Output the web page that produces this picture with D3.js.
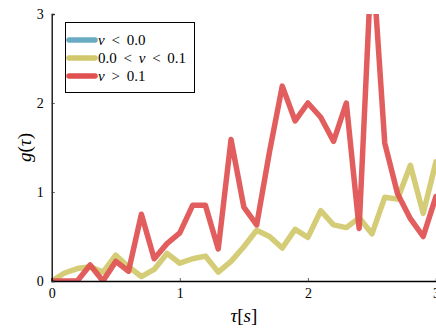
<!DOCTYPE html>
<html><head><meta charset="utf-8">
<script src="https://cdn.jsdelivr.net/npm/d3@7"></script>
<style>body{margin:0;background:#fff}svg{display:block}</style>
</head><body>
<svg id="c" width="436" height="331"></svg>
<script>
const tau = [0,0.1,0.2,0.3,0.4,0.5,0.6,0.7,0.8,0.9,1.0,1.1,1.2,1.3,1.4,1.5,1.6,1.7,1.8,1.9,2.0,2.1,2.2,2.3,2.4,2.5,2.6,2.7,2.8,2.9,3.0];
const gNeg = [];
const gMid = [0,0.09,0.14,0.16,0.10,0.29,0.16,0.05,0.13,0.31,0.20,0.25,0.28,0.10,0.22,0.385,0.57,0.50,0.37,0.58,0.49,0.79,0.63,0.60,0.71,0.53,0.94,0.92,1.30,0.76,1.34];
const gHigh = [0,0,0,0.18,0.0,0.22,0.11,0.75,0.25,0.42,0.54,0.85,0.85,0.36,1.59,0.83,0.63,1.45,2.19,1.80,2.0,1.84,1.57,2.0,0.59,3.7,1.55,0.98,0.70,0.50,0.95];
const seriesNames = ["v<0.0","0.0<v<0.1","v>0.1"];
const xTicks = [0,1,2,3];
const yTicks = [0,1,2,3];

const colors = ["#6aabc4","#d0c86a","#e05050"];
const svg = d3.select("#c");
const L=51.7, R=436, T=14, B=281;
const x = d3.scaleLinear().domain([0,3]).range([L,R]);
const y = d3.scaleLinear().domain([0,3]).range([B,T]);

svg.append("defs").append("clipPath").attr("id","clip")
  .append("rect").attr("x",L).attr("y",T).attr("width",R-L).attr("height",B-T);

const serif = "'Liberation Serif','DejaVu Serif',serif";
const line = d3.line().x(d=>x(d[0])).y(d=>y(d[1]));
const data = [gNeg,gMid,gHigh];
const pg = svg.append("g").attr("clip-path","url(#clip)");
data.forEach((vals,i)=>{
  if(!vals.length) return;
  pg.append("path").datum(vals.map((v,j)=>[tau[j],v]))
    .attr("d",line).attr("fill","none").attr("stroke",colors[i])
    .attr("stroke-width",5.5).attr("stroke-linejoin","round").attr("stroke-linecap","round")
    .attr("stroke-opacity",0.92);
});

// axes
const xa = d3.axisBottom(x).tickValues(xTicks).tickSize(-3).tickPadding(7).tickFormat(d3.format("d"));
const ya = d3.axisLeft(y).tickValues(yTicks).tickSize(-3).tickPadding(7).tickFormat(d3.format("d"));
const gx = svg.append("g").attr("transform",`translate(0,${B})`).call(xa);
const gy = svg.append("g").attr("transform",`translate(${L},0)`).call(ya);
[gx,gy].forEach(g=>{
  g.select(".domain").attr("stroke","#000").attr("stroke-width",1.3);
  g.selectAll(".tick line").attr("stroke","#333").attr("stroke-width",0.8);
  g.selectAll(".tick text").attr("font-family",serif).attr("font-size",14).attr("fill","#000");
});
gy.selectAll(".tick text").attr("dx","-1");

// axis labels
const xl = svg.append("text").attr("x",(L+R)/2).attr("y",322).attr("text-anchor","middle")
  .attr("font-family",serif).attr("font-size",19);
xl.append("tspan").attr("font-style","italic").text("τ");
xl.append("tspan").text("[");
xl.append("tspan").attr("font-style","italic").text("s");
xl.append("tspan").text("]");

const yl = svg.append("text").attr("transform",`translate(31,${(T+B)/2}) rotate(-90)`)
  .attr("text-anchor","middle").attr("font-family",serif).attr("font-size",19);
yl.append("tspan").attr("font-style","italic").text("g");
yl.append("tspan").text("(");
yl.append("tspan").attr("font-style","italic").text("τ");
yl.append("tspan").text(")");

// legend
const lg = svg.append("g");
lg.append("rect").attr("x",65.5).attr("y",22.5).attr("width",129).attr("height",70)
  .attr("fill","#fff").attr("stroke","#000").attr("stroke-width",1);
const labelParts = [
  [["v",true],[" < 0.0",false]],
  [["0.0 < ",false],["v",true],[" < 0.1",false]],
  [["v",true],[" > 0.1",false]]
];
[40,58,76].forEach((yy,i)=>{
  lg.append("line").attr("x1",69).attr("x2",95).attr("y1",yy).attr("y2",yy)
    .attr("stroke",colors[i]).attr("stroke-width",5.5).attr("stroke-linecap","round");
  const t = lg.append("text").attr("x",98).attr("y",yy+5).attr("font-family",serif)
    .attr("font-size",15).attr("word-spacing",3).attr("xml:space","preserve");
  labelParts[i].forEach(p=>{
    const s=t.append("tspan").text(p[0]);
    if(p[1]) s.attr("font-style","italic");
  });
});
</script>
</body></html>
